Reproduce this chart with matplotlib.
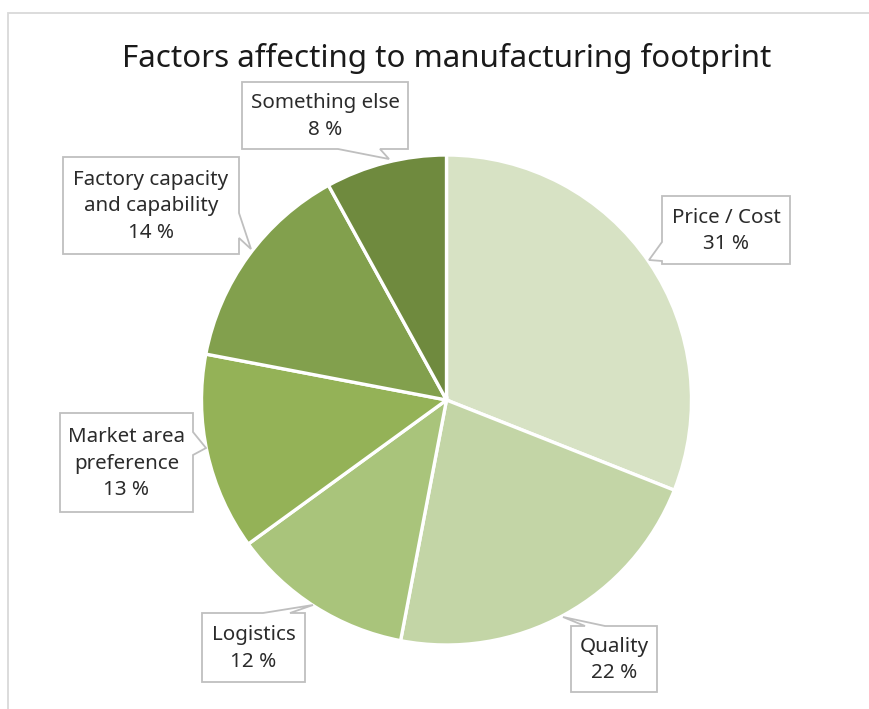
import matplotlib
matplotlib.use("Agg")
import matplotlib.pyplot as plt
from matplotlib.patches import Polygon, Rectangle

# Chart data
categories = ["Price / Cost", "Quality", "Logistics", "Market area\npreference",
              "Factory capacity\nand capability", "Something else"]
values = [31, 22, 12, 13, 14, 8]
colors = ["#d7e2c4", "#c3d5a6", "#a9c47b", "#94b257", "#82a04d", "#6f8a3e"]
title = "Factors affecting to manufacturing footprint"

W, H = 870, 709
FONT = ["Noto Sans", "DejaVu Sans"]

fig = plt.figure(figsize=(W / 100, H / 100), dpi=100)
ax = fig.add_axes([0, 0, 1, 1])


def P(x, y):
    """Convert top-left pixel coordinates into axes data coordinates."""
    return (x, H - y)


# Pie, drawn clockwise from 12 o'clock
cx, cy = P(446.5, 400)
ax.pie(values, colors=colors, startangle=90, counterclock=False,
       center=(cx, cy), radius=245,
       wedgeprops=dict(edgecolor="white", linewidth=2.4))

# Chart frame (cropped at right and bottom)
ax.add_patch(Rectangle(P(8, 800), 1000, 787, fill=False,
                       edgecolor="#d9d9d9", linewidth=1.3))

ax.text(*P(446.5, 67), title, ha="center", va="baseline", fontsize=22.5,
        color="#1a1a1a", family=FONT)

# Callout boxes: (x0, y0, x1, y1), side of pointer, pointer base span, pointer tip
callouts = [
    ((662, 196, 790, 264), "left", (242, 261), (649, 260)),
    ((571, 626, 657, 692), "top", (585, 605), (563, 617)),
    ((202, 613, 305, 682), "top", (263, 290), (313, 605)),
    ((60, 413, 193, 512), "right", (432, 455), (206, 448)),
    ((63, 157, 239, 254), "right", (213, 238), (251, 249)),
    ((242, 82, 408, 149), "bottom", (338, 380), (389, 159)),
]


def callout_vertices(box, side, span, tip):
    x0, y0, x1, y1 = box
    a, b = min(span), max(span)
    tl, tr, br, bl = (x0, y0), (x1, y0), (x1, y1), (x0, y1)
    if side == "top":
        pts = [tl, (a, y0), tip, (b, y0), tr, br, bl]
    elif side == "right":
        pts = [tl, tr, (x1, a), tip, (x1, b), br, bl]
    elif side == "bottom":
        pts = [tl, tr, br, (b, y1), tip, (a, y1), bl]
    else:
        pts = [tl, tr, br, bl, (x0, b), tip, (x0, a)]
    return [P(x, y) for x, y in pts]


for name, val, (box, side, span, tip) in zip(categories, values, callouts):
    verts = callout_vertices(box, side, span, tip)
    ax.add_patch(Polygon(verts, closed=True, facecolor="white",
                         edgecolor="#bfbfbf", linewidth=1.3, zorder=5))
    x0, y0, x1, y1 = box
    ax.text(*P((x0 + x1) / 2, (y0 + y1) / 2 + 1), f"{name}\n{val} %",
            ha="center", va="center", fontsize=14.8, color="#2b2b2b",
            linespacing=1.45, family=FONT, zorder=6)

ax.set_xlim(0, W)
ax.set_ylim(0, H)
ax.set_aspect("equal")
ax.axis("off")

fig.savefig("out.png", dpi=100, facecolor="white")
